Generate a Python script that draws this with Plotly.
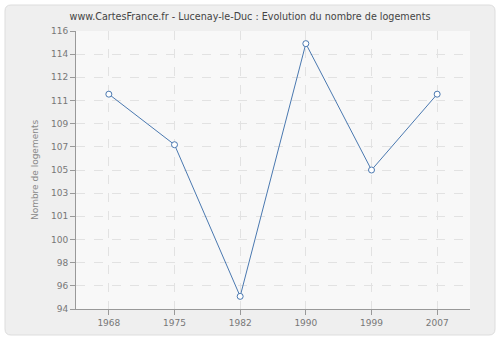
import plotly.graph_objects as go

years = ["1968", "1975", "1982", "1990", "1999", "2007"]
logements = [111, 107, 95, 115, 105, 111]
ytick_vals = [94 + i * 22 / 12 for i in range(13)]
ytick_text = ["94", "96", "98", "100", "101", "103", "105", "107", "109", "111", "112", "114", "116"]

W, H = 500, 340
ML, MR, MT, MB = 76, 30, 31, 31
PW, PH = W - ML - MR, H - MT - MB

def px(x):
    return (x - ML) / PW

def py(y):
    return (H - MB - y) / PH

# rounded outer frame path in paper coords
x0, x1, y0, y1, r = 5, 495, 5, 335, 6
path = (
    f"M {px(x0 + r)} {py(y0)} L {px(x1 - r)} {py(y0)} "
    f"Q {px(x1)} {py(y0)} {px(x1)} {py(y0 + r)} "
    f"L {px(x1)} {py(y1 - r)} Q {px(x1)} {py(y1)} {px(x1 - r)} {py(y1)} "
    f"L {px(x0 + r)} {py(y1)} Q {px(x0)} {py(y1)} {px(x0)} {py(y1 - r)} "
    f"L {px(x0)} {py(y0 + r)} Q {px(x0)} {py(y0)} {px(x0 + r)} {py(y0)} Z"
)

fig = go.Figure()
fig.add_trace(go.Scatter(
    x=years, y=logements, mode="lines+markers",
    line=dict(color="#4a78b0", width=1),
    marker=dict(symbol="circle", size=6, color="white",
                line=dict(color="#4a78b0", width=1)),
    hoverinfo="skip",
))

fig.update_layout(
    width=W, height=H,
    margin=dict(l=ML, r=MR, t=MT, b=MB),
    paper_bgcolor="white",
    plot_bgcolor="#f8f8f8",
    showlegend=False,
    title=dict(text="www.CartesFrance.fr - Lucenay-le-Duc : Evolution du nombre de logements",
               x=0.5, xanchor="center", y=1 - 17 / H, yanchor="middle",
               font=dict(family="DejaVu Sans", size=9.6, color="#444444")),
    shapes=[
        dict(type="path", path=path, xref="paper", yref="paper",
             fillcolor="#efefef", line=dict(color="#dddddd", width=1), layer="below"),
        dict(type="rect", x0=0, x1=1, y0=0, y1=1, xref="paper", yref="paper",
             fillcolor="#f8f8f8", line=dict(width=0), layer="below"),
    ],
    xaxis=dict(
        type="category", range=[-0.5, 5.5],
        showgrid=True, gridcolor="#e2e2e2", griddash="dash", gridwidth=1,
        showline=True, linecolor="#999999", linewidth=1,
        ticks="outside", ticklen=5, tickcolor="#999999",
        tickfont=dict(family="DejaVu Sans", size=9, color="#777777"),
        zeroline=False, fixedrange=True,
    ),
    yaxis=dict(
        range=[94, 116],
        tickvals=ytick_vals, ticktext=ytick_text,
        showgrid=True, gridcolor="#e2e2e2", griddash="dash", gridwidth=1,
        showline=True, linecolor="#999999", linewidth=1,
        ticks="outside", ticklen=5, tickcolor="#999999",
        tickfont=dict(family="DejaVu Sans", size=9, color="#777777"),
        title=dict(text="Nombre de logements", standoff=10,
                   font=dict(family="DejaVu Sans", size=9, color="#888888")),
        zeroline=False, fixedrange=True,
    ),
)

fig.write_html("out.html", config={"displayModeBar": False})
